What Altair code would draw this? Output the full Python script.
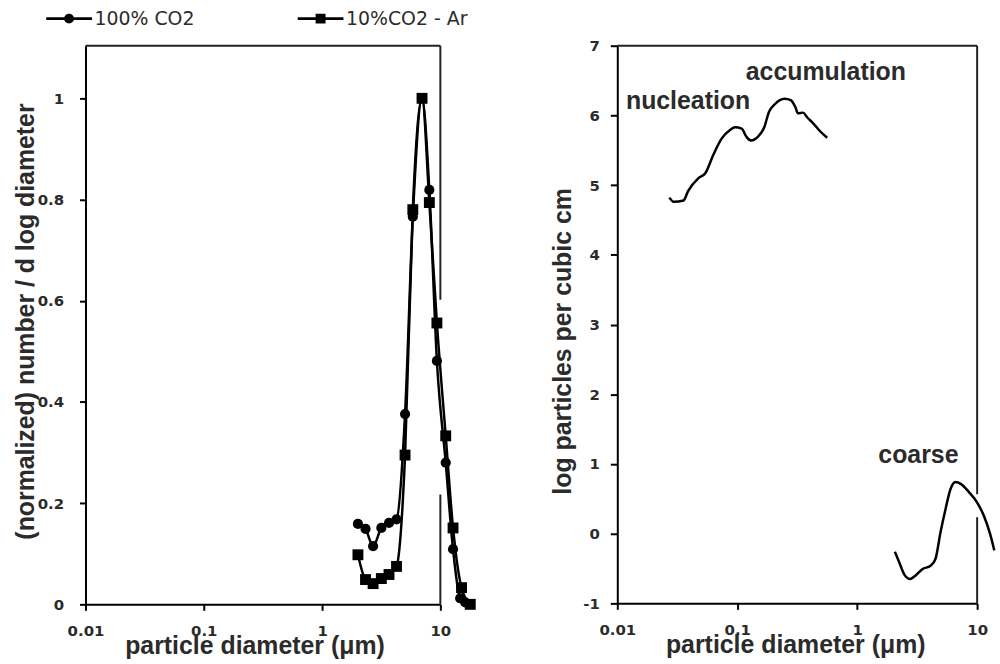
import altair as alt
import pandas as pd

# ---------------- left panel: normalized size distributions ----------------
series_names = ["100% CO2", "10%CO2 - Ar"]

co2_d = [2.01, 2.33, 2.70, 3.17, 3.68, 4.26, 5.03, 5.85, 7.00, 8.07, 9.35, 11.1, 12.8, 14.7, 16.2]
co2_v = [0.159, 0.149, 0.115, 0.151, 0.161, 0.168, 0.376, 0.766, 1.0, 0.819, 0.481, 0.280, 0.109, 0.012, 0.004]

ar_d = [2.01, 2.33, 2.70, 3.17, 3.68, 4.26, 5.03, 5.85, 7.00, 8.07, 9.35, 11.1, 12.8, 15.1, 17.9]
ar_v = [0.098, 0.049, 0.041, 0.051, 0.059, 0.075, 0.295, 0.780, 1.0, 0.794, 0.556, 0.333, 0.151, 0.033, 0.0]

left_ticks_x = [0.01, 0.1, 1, 10]
left_ticks_y = [0, 0.2, 0.4, 0.6, 0.8, 1]
left_y_max = 1.104

# frame edges of left panel (top edge, right edge with its gap)
left_frame_x = [0.01, 10, 10]
left_frame_x2 = [10, 10, 10]
left_frame_y = [left_y_max, left_y_max, 0.217]
left_frame_y2 = [left_y_max, 0.602, 0.0]

# ---------------- right panel: ambient aerosol modes ----------------
fine_d = [0.0272, 0.0295, 0.0357, 0.0388, 0.0475, 0.0541, 0.0634, 0.0743, 0.0871, 0.0959,
          0.1087, 0.1197, 0.130, 0.1497, 0.168, 0.1837, 0.2056, 0.2265, 0.249, 0.279,
          0.305, 0.321, 0.353, 0.384, 0.428, 0.486, 0.562]
fine_v = [4.82, 4.76, 4.78, 4.91, 5.10, 5.17, 5.44, 5.67, 5.79, 5.83,
          5.81, 5.69, 5.64, 5.70, 5.83, 6.05, 6.16, 6.22, 6.24, 6.22,
          6.12, 6.03, 6.04, 5.97, 5.89, 5.78, 5.68]

coarse_d = [2.06, 2.24, 2.46, 2.76, 3.07, 3.49, 4.09, 4.50, 4.95, 5.45, 6.00, 6.59,
            7.35, 8.51, 9.98, 11.35, 12.86, 13.9]
coarse_v = [-0.26, -0.41, -0.58, -0.65, -0.60, -0.51, -0.46, -0.36, 0.02, 0.35, 0.64, 0.74,
            0.71, 0.60, 0.45, 0.26, -0.01, -0.24]

ann_text = ["nucleation", "accumulation", "coarse"]
ann_d = [0.0389, 0.548, 3.24]
ann_v = [6.20, 6.62, 1.13]

right_ticks_x = [0.01, 0.1, 1, 10]
right_ticks_y = [-1, 0, 1, 2, 3, 4, 5, 6, 7]

right_frame_x = [0.01, 10, 10]
right_frame_x2 = [10, 10, 10]
right_frame_y = [7, 7, 0.236]
right_frame_y2 = [7, 0.564, -1]

# ---------------- tables ----------------
left_df = pd.DataFrame({
    "d": co2_d + ar_d,
    "v": co2_v + ar_v,
    "series": [series_names[0]] * len(co2_d) + [series_names[1]] * len(ar_d),
})
left_frame = pd.DataFrame({"x": left_frame_x, "x2": left_frame_x2,
                           "y": left_frame_y, "y2": left_frame_y2})

right_df = pd.DataFrame({
    "d": fine_d + coarse_d,
    "v": fine_v + coarse_v,
    "mode": ["fine"] * len(fine_d) + ["coarse"] * len(coarse_d),
})
ann_df = pd.DataFrame({"label": ann_text, "d": ann_d, "v": ann_v})
right_frame = pd.DataFrame({"x": right_frame_x, "x2": right_frame_x2,
                            "y": right_frame_y, "y2": right_frame_y2})

LABEL_FONT = "DejaVu Sans"
TITLE_FONT = "Liberation Sans"
INK = "#000000"
TXT = "#2b2b2b"


def x_axis(titlex):
    return alt.Axis(values=left_ticks_x, format="~g", labelFlush=False, grid=False,
                    title="particle diameter (\u03bcm)", titleX=titlex, titleY=49,
                    titleAlign="center", titleBaseline="alphabetic",
                    labelPadding=13, tickSize=6)


# ---------------- left chart ----------------
lx = alt.Scale(type="log", domain=[0.01, 10])
ly = alt.Scale(domain=[0, left_y_max], nice=False, zero=False)

left_x_enc = alt.X("d:Q", scale=lx, axis=x_axis(170))
left_y_enc = alt.Y("v:Q", scale=ly, axis=alt.Axis(values=left_ticks_y, format="~g", grid=False,
                                                  title="(normalized) number / d log diameter",
                                                  titleX=-60, titleY=277, titleAlign="center",
                                                  titleBaseline="middle", titleAngle=-90,
                                                  labelPadding=16, tickSize=6, labelFlush=False))

left_lines = alt.Chart(left_df).mark_line(interpolate="monotone", color=INK, strokeWidth=2.5).encode(
    x=left_x_enc, y=left_y_enc, detail="series:N")

left_points = alt.Chart(left_df).transform_calculate(
    marker="datum.series == '100% CO2' ? 'circle' : 'square'",
    msize="datum.series == '100% CO2' ? 105 : 120",
).mark_point(filled=True, color=INK, opacity=1).encode(
    x="d:Q", y="v:Q",
    shape=alt.Shape("marker:N", scale=None),
    size=alt.Size("msize:Q", scale=None),
)

# legend symbols: filled line stubs on both sides of the marker
legend_paths = [
    "M-4.6,-0.28L-0.9,-0.28L-0.9,0.28L-4.6,0.28Z"
    "M0.9,-0.28L4.6,-0.28L4.6,0.28L0.9,0.28Z"
    "M-1,0A1,1,0,1,1,1,0A1,1,0,1,1,-1,0Z",
    "M-4.6,-0.28L-0.9,-0.28L-0.9,0.28L-4.6,0.28Z"
    "M0.9,-0.28L4.6,-0.28L4.6,0.28L0.9,0.28Z"
    "M-1,-1L1,-1L1,1L-1,1Z",
]
left_legend_layer = alt.Chart(left_df).mark_point(
    filled=True, color=INK, opacity=1, size=0
).encode(
    x="d:Q", y="v:Q",
    shape=alt.Shape("series:N", scale=alt.Scale(domain=series_names, range=legend_paths),
                    legend=alt.Legend(title=None, orient="none", legendX=-26, legendY=-37,
                                      direction="horizontal", symbolSize=100,
                                      symbolOpacity=1, symbolFillColor=INK,
                                      labelFont=LABEL_FONT, labelFontSize=19,
                                      labelFontWeight="normal", labelColor=TXT, labelOffset=16,
                                      columnPadding=100, labelLimit=300)),
)

left_border = alt.Chart(left_frame).mark_rule(color="#222222", strokeWidth=2).encode(
    x="x:Q", x2="x2:Q", y="y:Q", y2="y2:Q")

left = alt.layer(left_border, left_lines, left_points, left_legend_layer).properties(
    width=357, height=562)

# ---------------- right chart ----------------
rx = alt.Scale(type="log", domain=[0.01, 10])
ry = alt.Scale(domain=[-1, 7], nice=False, zero=False)

right_x_enc = alt.X("d:Q", scale=rx, axis=x_axis(179))
right_y_enc = alt.Y("v:Q", scale=ry, axis=alt.Axis(values=right_ticks_y, grid=False, format="d",
                                                   labelExpr="replace(datum.label, '\u2212', '-')",
                                                   title="log particles per cubic cm",
                                                   titleX=-55, titleY=297, titleAlign="center",
                                                   titleBaseline="middle", titleAngle=-90,
                                                   labelPadding=11, tickSize=7, labelFlush=False))

right_border = alt.Chart(right_frame).mark_rule(color="#222222", strokeWidth=2).encode(
    x="x:Q", x2="x2:Q", y="y:Q", y2="y2:Q")

right_lines = alt.Chart(right_df).mark_line(interpolate="monotone", color=INK, strokeWidth=2.5).encode(
    x=right_x_enc, y=right_y_enc, detail="mode:N")

right_text = alt.Chart(ann_df).mark_text(font=TITLE_FONT, fontWeight="bold", fontSize=25,
                                         color=TXT, align="center", baseline="middle").encode(
    x="d:Q", y="v:Q", text="label:N")

right = alt.layer(right_border, right_lines, right_text).properties(width=362, height=561)

chart = alt.hconcat(left, right, spacing=178, bounds="flush").properties(
    padding={"left": 14, "top": 7, "right": 0, "bottom": 0}
).configure_view(stroke=None).configure_axis(
    domainColor=INK, domainWidth=2, tickColor=INK, tickWidth=2,
    labelFont=LABEL_FONT, labelFontSize=15, labelFontWeight="bold", labelColor=TXT,
    titleFont=TITLE_FONT, titleFontSize=25, titleFontWeight="bold", titleColor=TXT,
)

chart.save("out.html", embed_options={"renderer": "svg", "actions": False})
